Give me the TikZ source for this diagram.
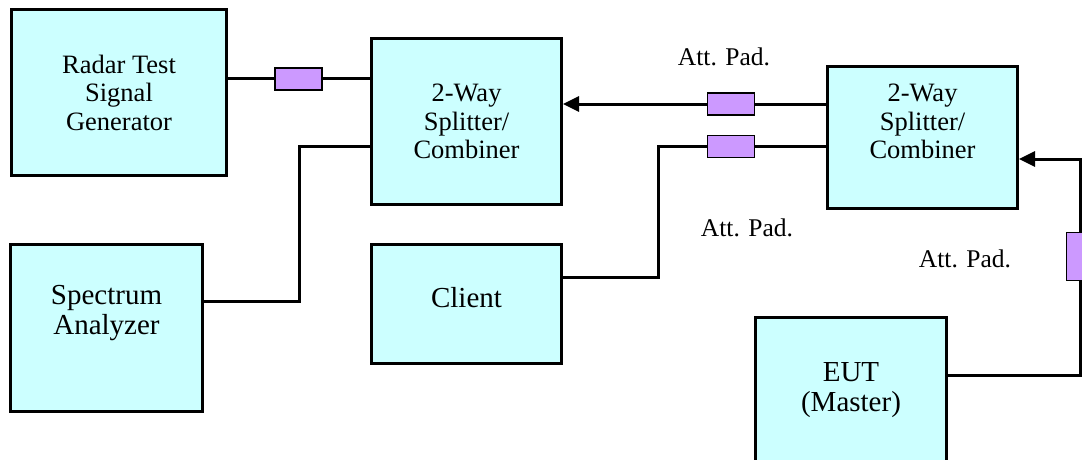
\documentclass[tikz,border=0pt]{standalone}
\usepackage{fontspec}
\setmainfont{Liberation Serif}
\usepackage{tikz}
\usetikzlibrary{arrows.meta}
\definecolor{boxfill}{HTML}{CCFFFF}
\definecolor{padfill}{HTML}{CC99FF}
\tikzset{unit/.style={draw=black,fill=boxfill,line width=3pt,align=center,font=\fontsize{26.5}{28.5}\selectfont,inner sep=0pt}, large/.style={font=\fontsize{29}{30}\selectfont}, pad/.style={draw=black,fill=padfill,line width=1.5pt,minimum width=47pt,minimum height=22pt,inner sep=0pt}, wire/.style={line width=3pt,draw=black}, feed/.style={wire,-{Triangle[length=16pt,width=15pt]}}, padlbl/.style={font=\fontsize{25.5}{27}\selectfont,anchor=base,inner sep=0pt}, caption/.style={align=center,font=\fontsize{26.5}{28.5}\selectfont,inner sep=0pt}}

\begin{document}
\begin{tikzpicture}[x=1pt,y=-1pt]
\useasboundingbox (0,0) rectangle (1082,460);
\node[unit,minimum width=215pt,minimum height=166pt] (gen) at (119,92.5) {Radar Test\\Signal\\Generator};
\node[unit,minimum width=190pt,minimum height=166pt] (split1) at (466.5,121.5) {2-Way\\Splitter/\\Combiner};
\node[unit,minimum width=192pt,minimum height=167pt] (sa) at (106.5,328) {};
\node[caption,large] (saName) at ([yshift=15pt]sa.center) {Spectrum\\Analyzer};
\node[unit,minimum width=190pt,minimum height=119pt] (client) at (466.5,304) {};
\node[caption,large] (clientName) at ([yshift=6pt]client.center) {Client};
\node[unit,minimum width=190pt,minimum height=142pt] (split2) at (922.5,137.5) {};
\node[caption] (split2Name) at ([yshift=16pt]split2.center) {2-Way\\Splitter/\\Combiner};
\node[unit,large,minimum width=191pt,minimum height=145pt] (eut) at (851,390) {EUT\\(Master)};
% attenuator pads
\node[pad] (pad1) at (298.5,79) {};
\node[pad] (pad2) at (731,104) {};
\node[pad] (pad3) at (731,146.5) {};
\node[pad,minimum width=27pt,minimum height=48pt] (pad4) at (1080,256.5) {};
\node[padlbl] (lbl2) at (724,66) {Att. Pad.};
\node[padlbl] (lbl3) at (747,236) {Att. Pad.};
\node[padlbl] (lbl4) at (965,267) {Att. Pad.};
% bends
\coordinate (j1) at (299,146);
\coordinate (j2) at (299,301);
\coordinate (j3) at (658,277);
\coordinate (j4) at (1080,375);
\coordinate (j5) at (1080,159);
\draw[wire] (gen.east |- pad1.center) -- (pad1.west);
\draw[wire] (pad1.east) -- (split1.west |- pad1.center);
\draw[wire] (split1.west |- j1) -- (j1) -- (j2) -- (sa.east |- j2);
\draw[feed] (pad2.west) -- (split1.east |- pad2.center);
\draw[wire] (pad2.east) -- (split2.west |- pad2.center);
\draw[wire] (client.east |- j3) -- (j3) |- (pad3.west);
\draw[wire] (pad3.east) -- (split2.west |- pad3.center);
\draw[wire] (eut.east |- j4) -- (j4) -- (pad4.south);
\draw[feed] (pad4.north) -- (j5) -- (split2.east |- j5);
\end{tikzpicture}
\end{document}
